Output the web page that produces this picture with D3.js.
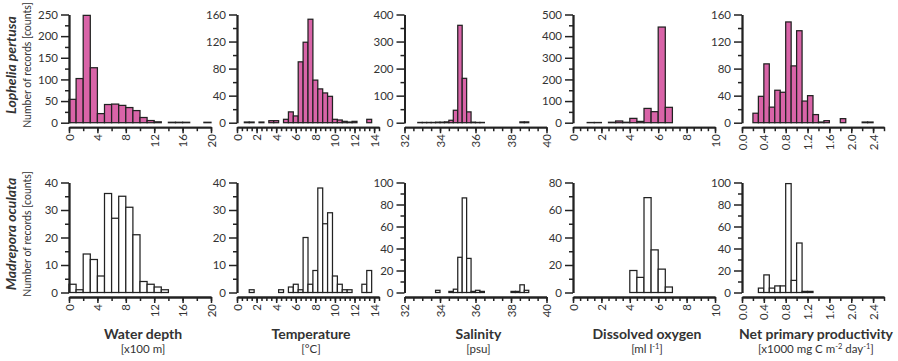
<!DOCTYPE html>
<html>
<head>
<meta charset="utf-8">
<script src="https://cdn.jsdelivr.net/npm/d3@7"></script>
<style>
  body { margin: 0; background: #fff; }
  svg text { font-family: Lato, "Open Sans", "Liberation Sans", sans-serif; fill: #333; }
</style>
</head>
<body>
<svg id="chart" width="898" height="361"></svg>
<script>
// ---- Species (rows) and environmental variables (columns) ----
const species = ["Lophelia pertusa", "Madrepora oculata"];
const variables = ["Water depth", "Temperature", "Salinity", "Dissolved oxygen", "Net primary productivity"];

// ---- Water depth [x100 m], bins of 1 starting at these edges ----
const depthBinStarts = [0, 1, 2, 3, 4, 5, 6, 7, 8, 9, 10, 11, 12, 13, 14, 15, 16, 17, 18, 19];
const depthLophelia  = [54, 102, 248, 127, 21, 42, 43, 40, 35, 28, 12, 5, 2, 0, 1, 1, 1, 0, 0, 1];
const depthMadrepora = [3, 1, 14, 12, 6, 36, 27, 35, 31, 21, 4, 3, 2, 1, 0, 0, 0, 0, 0, 0];

// ---- Temperature [°C], bins of 0.5 centred on these values ----
const tempBinCenters = [1, 1.5, 2, 2.5, 3, 3.5, 4, 4.5, 5, 5.5, 6, 6.5, 7, 7.5, 8, 8.5, 9, 9.5, 10, 10.5, 11, 11.5, 12, 12.5, 13, 13.5];
const tempLophelia   = [1, 1, 0, 1, 0, 3, 3, 0, 5, 16, 10, 90, 119, 153, 63, 50, 44, 39, 5, 4, 2, 1, 2, 0, 0, 5];
const tempMadrepora  = [0, 1, 0, 0, 0, 0, 0, 1, 0, 2, 3, 1, 20, 3, 8, 38, 25, 29, 6, 3, 1, 1, 0, 0, 3, 8];

// ---- Salinity [psu], bins of 0.25 starting at these edges ----
const salBinStarts = [32.75, 33, 33.25, 33.5, 33.75, 34, 34.25, 34.5, 34.75, 35, 35.25, 35.5, 35.75, 36, 36.25, 36.5, 36.75, 37, 37.25, 37.5, 37.75, 38, 38.25, 38.5, 38.75];
const salLophelia  = [1, 1, 1, 1, 2, 2, 3, 9, 46, 360, 164, 40, 2, 1, 1, 0, 0, 0, 0, 0, 0, 0, 0, 3, 3];
const salMadrepora = [0, 0, 0, 0, 2, 0, 0, 1, 3, 32, 86, 31, 1, 2, 1, 0, 0, 0, 0, 0, 0, 1, 1, 7, 2];

// ---- Dissolved oxygen [ml l-1], bins of 0.5 starting at these edges ----
const oxyBinStarts = [1, 1.5, 2, 2.5, 3, 3.5, 4, 4.5, 5, 5.5, 6, 6.5];
const oxyLophelia  = [1, 1, 0, 2, 8, 2, 20, 6, 66, 51, 442, 71];
const oxyMadrepora = [0, 0, 0, 0, 0, 0, 16, 11, 69, 31, 17, 4];

// ---- Net primary productivity [x1000 mg C m-2 day-1], bins of 0.1 ----
const nppBinStarts = [0.2, 0.3, 0.4, 0.5, 0.6, 0.7, 0.8, 0.9, 1.0, 1.1, 1.2, 1.3, 1.4, 1.5, 1.6, 1.7, 1.8, 1.9, 2.0, 2.1, 2.2, 2.3];
const nppLophelia  = [14, 39, 87, 23, 48, 45, 149, 84, 136, 32, 40, 12, 1, 3, 0, 0, 6, 0, 0, 0, 1, 1];
const nppMadrepora = [0, 4, 16, 4, 6, 6, 99, 11, 45, 1, 1, 0, 0, 0, 0, 0, 0, 0, 0, 0, 0, 0];

// ---- Axis ticks ----
const depthTicks = [0, 2, 4, 6, 8, 10, 12, 14, 16, 18, 20];
const depthTickLabels = [0, 4, 8, 12, 16, 20];
const tempTicks = d3.range(0, 14.51, 0.5);
const tempTickLabels = [0, 2, 4, 6, 8, 10, 12, 14];
const salTicks = d3.range(32, 40.01, 0.5);
const salTickLabels = [32, 34, 36, 38, 40];
const oxyTicks = d3.range(0, 10.01, 0.5);
const oxyTickLabels = [0, 2, 4, 6, 8, 10];
const nppTicks = [0, 0.2, 0.4, 0.6, 0.8, 1.0, 1.2, 1.4, 1.6, 1.8, 2.0, 2.2, 2.4, 2.6];
const nppTickLabels = [0, 0.4, 0.8, 1.2, 1.6, 2.0, 2.4];

// count axes: labelled values per row / column
const countLabelsLophelia  = [[0, 50, 100, 150, 200, 250], [0, 40, 80, 120, 160], [0, 100, 200, 300, 400], [0, 100, 200, 300, 400, 500], [0, 40, 80, 120, 160]];
const countLabelsMadrepora = [[0, 10, 20, 30, 40], [0, 10, 20, 30, 40], [0, 20, 40, 60, 80, 100], [0, 20, 40, 60, 80], [0, 20, 40, 60, 80, 100]];

// ---- Assemble panel descriptions ----
function binsFromStarts(starts, counts, width) {
  return starts.map((s, i) => ({ x0: s, x1: s + width, n: counts[i] }));
}
function binsFromCenters(centers, counts, width) {
  return centers.map((c, i) => ({ x0: c - width / 2, x1: c + width / 2, n: counts[i] }));
}

const columns = [
  { title: "Water depth", unit: [["[x100 m]"]], domain: [0, 20], ticks: depthTicks, labels: depthTickLabels, fmt: d3.format("d"),
    bins: [binsFromStarts(depthBinStarts, depthLophelia, 1), binsFromStarts(depthBinStarts, depthMadrepora, 1)] },
  { title: "Temperature", unit: [["[°C]"]], domain: [0, 14.5], ticks: tempTicks, labels: tempTickLabels, fmt: d3.format("d"),
    bins: [binsFromCenters(tempBinCenters, tempLophelia, 0.5), binsFromCenters(tempBinCenters, tempMadrepora, 0.5)] },
  { title: "Salinity", unit: [["[psu]"]], domain: [32, 40], ticks: salTicks, labels: salTickLabels, fmt: d3.format("d"),
    bins: [binsFromStarts(salBinStarts, salLophelia, 0.25), binsFromStarts(salBinStarts, salMadrepora, 0.25)] },
  { title: "Dissolved oxygen", unit: [["[ml l"], ["-1", true], ["]"]], domain: [0, 10], ticks: oxyTicks, labels: oxyTickLabels, fmt: d3.format("d"),
    bins: [binsFromStarts(oxyBinStarts, oxyLophelia, 0.5), binsFromStarts(oxyBinStarts, oxyMadrepora, 0.5)] },
  { title: "Net primary productivity", unit: [["[x1000 mg C m"], ["-2", true], [" day"], ["-1", true], ["]"]], domain: [0, 2.6], ticks: nppTicks, labels: nppTickLabels, fmt: d3.format(".1f"),
    bins: [binsFromStarts(nppBinStarts, nppLophelia, 0.1), binsFromStarts(nppBinStarts, nppMadrepora, 0.1)] }
];
const countLabels = [countLabelsLophelia, countLabelsMadrepora];

// ---- Layout ----
const svg = d3.select("#chart");
const colLeft = [69, 237, 404.5, 573, 742];
const plotW = 142;
const rows = [
  { top: 14.5, zero: 122.7, fill: "#d964a8" },
  { top: 182.5, zero: 292.5, fill: "#ffffff" }
];
const axisGap = 4.5;       // x axis sits a little below the zero line
const ink = "#222";

rows.forEach((row, r) => {
  columns.forEach((col, c) => {
    const g = svg.append("g");
    const x = d3.scaleLinear().domain(col.domain).range([colLeft[c], colLeft[c] + plotW]);
    const lab = countLabels[r][c];
    const yMax = lab[lab.length - 1];
    const step = lab[1] - lab[0];
    const y = d3.scaleLinear().domain([0, yMax]).range([row.zero, row.top]);
    const minor = d3.range(step / 2, yMax, step);

    // bars
    g.append("g").selectAll("rect")
      .data(col.bins[r].filter(d => d.n > 0))
      .join("rect")
      .attr("x", d => x(d.x0))
      .attr("width", d => x(d.x1) - x(d.x0))
      .attr("y", d => y(d.n))
      .attr("height", d => y(0) - y(d.n))
      .attr("fill", row.fill)
      .attr("stroke", ink)
      .attr("stroke-width", 1.25);

    // count axis: minor ticks, then labelled ticks
    const yMinor = g.append("g").attr("transform", `translate(${colLeft[c]},0)`)
      .call(d3.axisLeft(y).tickValues(minor).tickSize(4).tickSizeOuter(0).tickFormat(""));
    const yMajor = g.append("g").attr("transform", `translate(${colLeft[c]},0)`)
      .call(d3.axisLeft(y).tickValues(lab).tickSize(8).tickSizeOuter(0).tickPadding(3).tickFormat(d3.format("d")));
    [yMinor, yMajor].forEach(a => {
      a.selectAll("line").attr("stroke", ink).attr("stroke-width", 1.5);
      a.select(".domain").attr("stroke", ink).attr("stroke-width", 1.8);
    });
    yMajor.selectAll("text").style("font-size", "11.5px").attr("fill", "#333");

    // value axis below
    const xy = row.zero + axisGap;
    const xMinor = g.append("g").attr("transform", `translate(0,${xy})`)
      .call(d3.axisBottom(x).tickValues(col.ticks).tickSize(4).tickSizeOuter(0).tickFormat(""));
    const xMajor = g.append("g").attr("transform", `translate(0,${xy})`)
      .call(d3.axisBottom(x).tickValues(col.labels).tickSize(6).tickSizeOuter(0).tickFormat(col.fmt));
    [xMinor, xMajor].forEach(a => {
      a.selectAll("line").attr("stroke", ink).attr("stroke-width", 1.5);
      a.select(".domain").attr("stroke", ink).attr("stroke-width", 1.8);
    });
    xMajor.selectAll("text")
      .attr("transform", "rotate(-90)")
      .attr("text-anchor", "end")
      .attr("x", -7).attr("y", 0).attr("dy", "0.35em")
      .style("font-size", "11.5px").attr("fill", "#333");
  });

  // row labels
  const cy = (row.top + row.zero) / 2 - 3.5;
  svg.append("text")
    .attr("transform", `translate(16,${cy}) rotate(-90)`)
    .attr("text-anchor", "middle")
    .style("font-size", "14px").style("font-weight", "bold").style("font-style", "italic")
    .attr("fill", "#222")
    .text(species[r]);
  svg.append("text")
    .attr("transform", `translate(31,${cy}) rotate(-90)`)
    .attr("text-anchor", "middle")
    .style("font-size", "10.5px")
    .attr("fill", "#333")
    .text("Number of records [counts]");
});

// column titles and units under the lower row
columns.forEach((col, c) => {
  const cx = colLeft[c] + plotW / 2 + 3;
  svg.append("text")
    .attr("x", cx).attr("y", 339)
    .attr("text-anchor", "middle")
    .style("font-size", "14px").style("font-weight", "bold")
    .attr("fill", "#222")
    .text(col.title);
  const u = svg.append("text")
    .attr("x", cx).attr("y", 353)
    .attr("text-anchor", "middle")
    .style("font-size", "11.5px")
    .attr("fill", "#333");
  col.unit.forEach(([s, sup]) => {
    const t = u.append("tspan").text(s);
    if (sup) t.attr("dy", -4).style("font-size", "7.5px");
    else if (u.selectAll("tspan").size() > 1) t.attr("dy", 4);
  });
});
</script>
</body>
</html>
